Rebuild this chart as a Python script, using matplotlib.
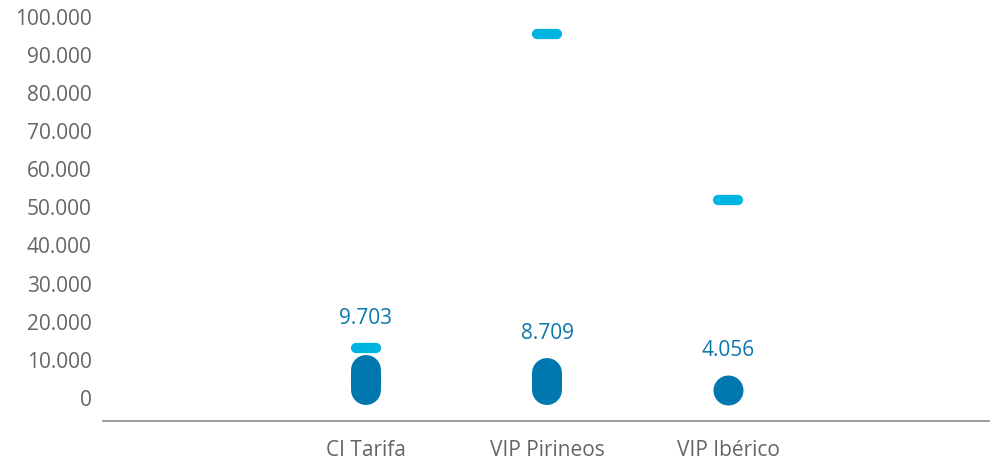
import numpy as np
import matplotlib
matplotlib.use("Agg")
import matplotlib.pyplot as plt
from matplotlib.ticker import FuncFormatter

# data
categories = ["CI Tarifa", "VIP Pirineos", "VIP Ibérico"]
values = [9703, 8709, 4056]          # dark rounded bars (labelled)
markers = [13100, 95400, 51800]      # light blue dashes
y_ticks = list(range(0, 100001, 10000))

DARK = "#0077ae"
LIGHT = "#00b4e1"
LABEL = "#0a78ad"
GREY = "#646569"

plt.rcParams["font.family"] = ["Open Sans", "DejaVu Sans"]

fig = plt.figure(figsize=(9.95, 4.69), dpi=100)
ax = fig.add_axes([0.1032, 0.1023, 0.8908, 0.8977])
ax.set_xlim(-1.4525, 3.4387)
ax.set_ylim(-6030, 104330)

x = np.arange(len(categories))

# pixel -> data helpers for the rounded shapes
px_y = (104330 + 6030) / (469 * 0.8977)
cap = 15 * px_y        # round cap radius of the 30px wide bar
dash_half = 10 / 181.2  # half length of marker core in x units

for xi, v, m in zip(x, values, markers):
    h = max(v - 4460, 0) / 2
    if h > 0:
        ax.plot([xi, xi], [v / 2 - h, v / 2 + h], color=DARK, lw=21.6,
                solid_capstyle="round", zorder=3)
    else:
        ax.plot([xi], [v / 2], "o", color=DARK, ms=21.6, mew=0, zorder=3)
    ax.plot([xi - dash_half, xi + dash_half], [m, m], color=LIGHT, lw=7.4,
            solid_capstyle="round", zorder=3)
    top = v / 2 + h + cap
    if m - top < 6 * px_y * 3:
        top = m + 5 * px_y
    ax.annotate(f"{v:,}".replace(",", "."), (xi, top), xytext=(0, 10),
                textcoords="offset points", ha="center", va="bottom",
                color=LABEL, fontsize=15)

ax.set_yticks(y_ticks)
ax.yaxis.set_major_formatter(FuncFormatter(lambda t, p: f"{int(t):,}".replace(",", ".")))
ax.set_xticks(x)
ax.set_xticklabels(categories)
ax.tick_params(axis="y", length=0, pad=8, labelsize=15, labelcolor=GREY)
ax.tick_params(axis="x", length=0, pad=14, labelsize=15, labelcolor=GREY)

for s in ["top", "right", "left"]:
    ax.spines[s].set_visible(False)
ax.spines["bottom"].set_color("#8a8a8a")
ax.spines["bottom"].set_linewidth(1.2)

fig.savefig("out.png", dpi=100)
